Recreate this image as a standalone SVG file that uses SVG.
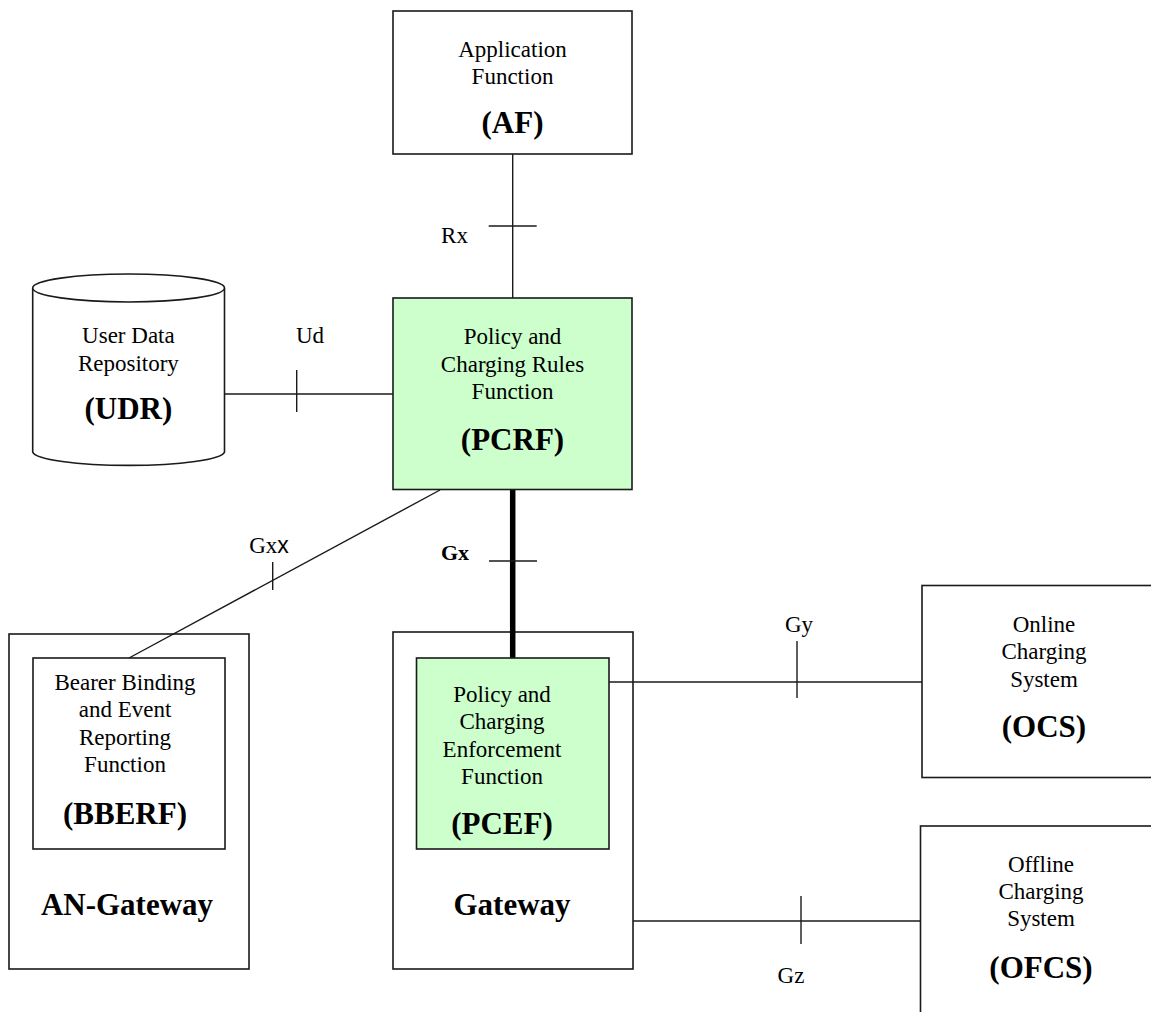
<svg xmlns="http://www.w3.org/2000/svg" width="1151" height="1012" viewBox="0 0 1151 1012">
<style>
.box{fill:#ffffff;stroke:#1a1a1a;stroke-width:1.6}
.frame{fill:none;stroke:#1a1a1a;stroke-width:1.6}
.green{fill:#ccffcc;stroke:#1a1a1a;stroke-width:1.6}
.ln{stroke:#1a1a1a;stroke-width:1.4;fill:none}
.thick{stroke:#000;stroke-width:5.5;fill:none}
text{font-family:"Liberation Serif","Times New Roman",serif;fill:#000;text-anchor:middle}
.t{font-size:23px}
.b{font-size:31px;font-weight:bold}
.lbl{font-size:23px}
</style>
<rect x="0" y="0" width="1151" height="1012" fill="#ffffff"/>
<g id="an-gateway">
<rect class="frame" x="9" y="634" width="240" height="335"/>
<text class="b" x="127" y="915">AN-Gateway</text>
</g>
<g id="gateway">
<rect class="frame" x="393" y="632" width="240" height="337"/>
<text class="b" x="512" y="915">Gateway</text>
</g>
<g id="connectors">
<line class="ln" x1="512.7" y1="154" x2="512.7" y2="298"/>
<line class="ln" x1="488.7" y1="226" x2="536.7" y2="226"/>
<line class="ln" x1="224.5" y1="394" x2="393" y2="394"/>
<line class="ln" x1="296.7" y1="370" x2="296.7" y2="412"/>
<line class="ln" x1="440" y1="490" x2="129" y2="658"/>
<line class="ln" x1="272.7" y1="562" x2="272.7" y2="590"/>
<line class="thick" x1="512.7" y1="490" x2="512.7" y2="658"/>
<line class="ln" x1="489" y1="561" x2="537" y2="561"/>
<line class="ln" x1="609" y1="682" x2="922" y2="682"/>
<line class="ln" x1="797" y1="641" x2="797" y2="698"/>
<line class="ln" x1="633" y1="921" x2="921" y2="921"/>
<line class="ln" x1="801" y1="896" x2="801" y2="944"/>
<text class="lbl" x="454.5" y="243">Rx</text>
<text class="lbl" x="310" y="343">Ud</text>
<text class="lbl" x="269" y="553">Gx<tspan style="font-family:'Liberation Sans',Arial,sans-serif">x</tspan></text>
<text x="455" y="560" style="font-size:22px;font-weight:bold">Gx</text>
<text class="lbl" x="799" y="632">Gy</text>
<text class="lbl" x="791" y="983">Gz</text>
</g>
<g id="af">
<rect class="box" x="393" y="11" width="239" height="143"/>
<text class="t" x="512.5" y="56.5">Application</text>
<text class="t" x="512.5" y="84">Function</text>
<text class="b" x="512.5" y="133">(AF)</text>
</g>
<g id="udr">
<path class="box" d="M32.7,288 L32.7,452 A96,14 0 0 0 224.5,452 L224.5,288"/>
<ellipse class="box" cx="128.6" cy="288" rx="95.9" ry="14"/>
<text class="t" x="128.4" y="343">User Data</text>
<text class="t" x="128.4" y="370.5">Repository</text>
<text class="b" x="128.4" y="418.5">(UDR)</text>
</g>
<g id="pcrf">
<rect class="green" x="393" y="298" width="239" height="191.5"/>
<text class="t" x="512.5" y="344">Policy and</text>
<text class="t" x="512.5" y="371.5">Charging Rules</text>
<text class="t" x="512.5" y="399">Function</text>
<text class="b" x="512.5" y="449.5">(PCRF)</text>
</g>
<g id="bberf">
<rect class="box" x="33" y="658" width="192" height="191"/>
<text class="t" x="125" y="690">Bearer Binding</text>
<text class="t" x="125" y="717">and Event</text>
<text class="t" x="125" y="744.5">Reporting</text>
<text class="t" x="125" y="771.5">Function</text>
<text class="b" x="125" y="823.5">(BBERF)</text>
</g>
<g id="pcef">
<rect class="green" x="416.5" y="658" width="192.5" height="191"/>
<text class="t" x="502" y="701.5">Policy and</text>
<text class="t" x="502" y="729">Charging</text>
<text class="t" x="502" y="756.5">Enforcement</text>
<text class="t" x="502" y="784">Function</text>
<text class="b" x="502" y="834">(PCEF)</text>
</g>
<g id="ocs">
<rect class="box" x="922" y="585.5" width="240" height="192"/>
<text class="t" x="1044" y="632">Online</text>
<text class="t" x="1044" y="659">Charging</text>
<text class="t" x="1044" y="686.5">System</text>
<text class="b" x="1044" y="737">(OCS)</text>
</g>
<g id="ofcs">
<rect class="box" x="920.5" y="826" width="240" height="200"/>
<text class="t" x="1041" y="872">Offline</text>
<text class="t" x="1041" y="899">Charging</text>
<text class="t" x="1041" y="926">System</text>
<text class="b" x="1041" y="977.5">(OFCS)</text>
</g>
</svg>
